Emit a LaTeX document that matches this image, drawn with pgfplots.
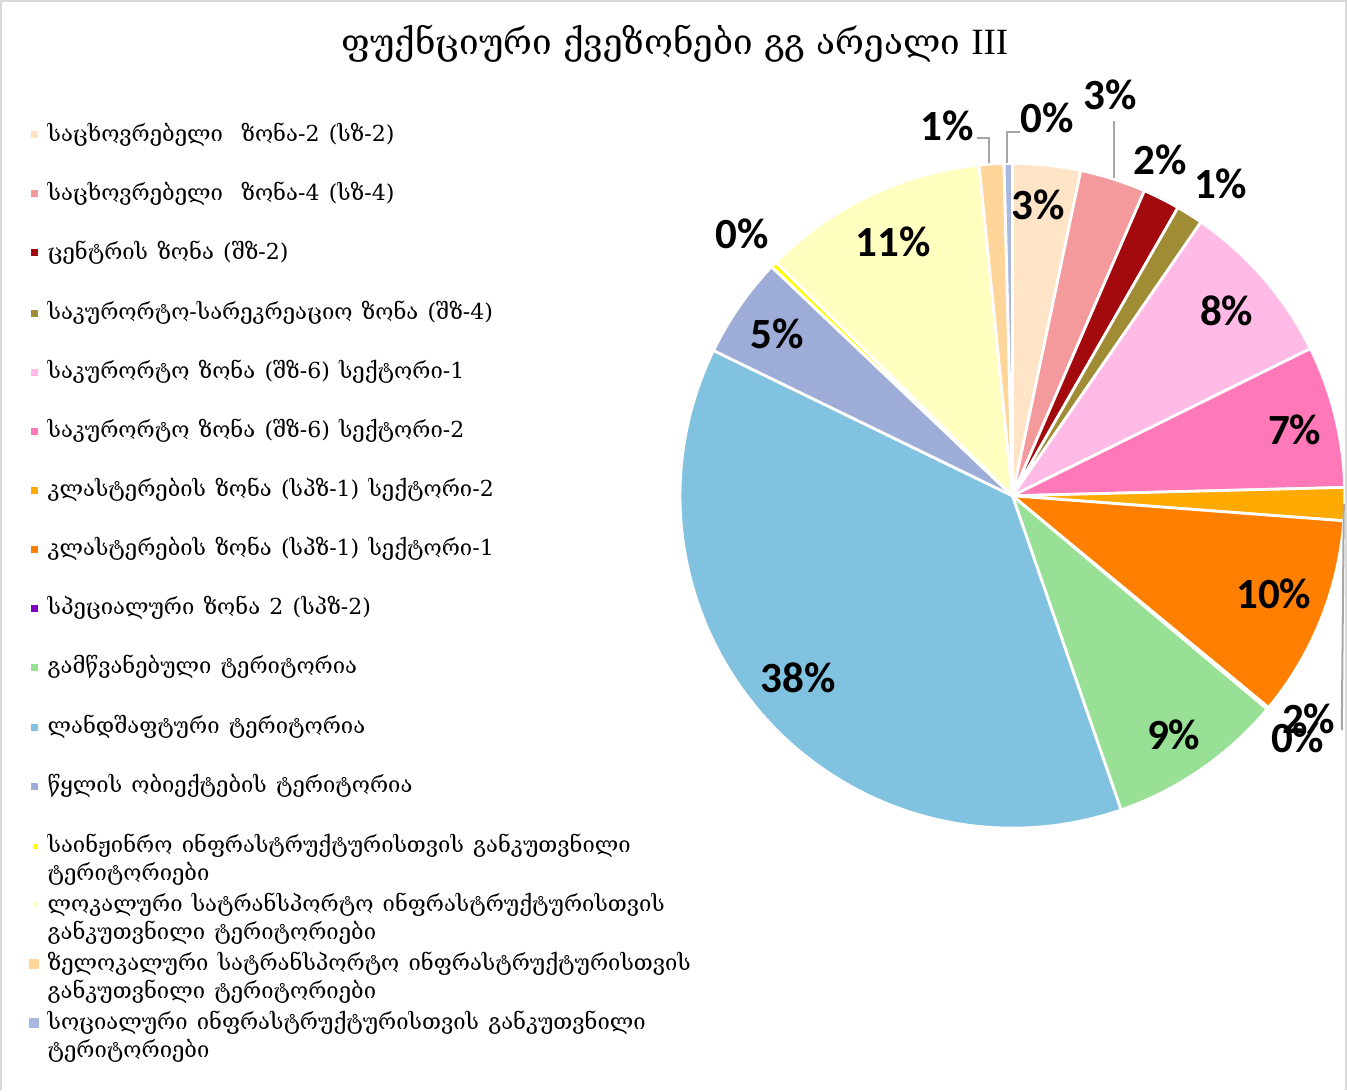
\documentclass[border=0pt]{standalone}
\usepackage{pgfplots}
\pgfplotsset{compat=1.18}
\usepackage{pgfplotstable}
\usepackage{fontspec}
\setmainfont{Liberation Serif}
\newfontfamily\geo{DejaVu Serif}
\newfontfamily\lbl{Carlito}
\definecolor{c1}{HTML}{FFE4C8}
\definecolor{c2}{HTML}{F4999C}
\definecolor{c3}{HTML}{A30A0E}
\definecolor{c4}{HTML}{A08C34}
\definecolor{c5}{HTML}{FFBBE6}
\definecolor{c6}{HTML}{FF78B8}
\definecolor{c7}{HTML}{FFAA00}
\definecolor{c8}{HTML}{FF8000}
\definecolor{c9}{HTML}{8000C0}
\definecolor{c10}{HTML}{98E096}
\definecolor{c11}{HTML}{80C2E0}
\definecolor{c12}{HTML}{9EACD8}
\definecolor{c13}{HTML}{FFFF00}
\definecolor{c14}{HTML}{FFFFC0}
\definecolor{c15}{HTML}{FFD59A}
\definecolor{c16}{HTML}{A8B8E0}
\definecolor{frame}{HTML}{D9D9D9}
\pgfplotstableread{
pct color
3.3 c1
3.2 c2
1.8 c3
1.3 c4
8.1 c5
6.9 c6
1.6 c7
9.8 c8
0.1 c9
8.6 c10
37.5 c11
4.9 c12
0.3 c13
11.0 c14
1.2 c15
0.4 c16
}\piedata
\newcommand{\legfont}{\geo\fontsize{11}{14}\selectfont\spaceskip=0.42em\relax}
\begin{document}
\begin{tikzpicture}
\begin{axis}[x=0.5pt, y=0.5pt, xmin=0, xmax=1347, ymin=0, ymax=1093,
  hide axis, clip=false, scale only axis]
\pgfmathsetmacro\cum{0}
\pgfplotsforeachungrouped \i in {0,...,15}{%
  \pgfplotstablegetelem{\i}{pct}\of\piedata \let\p\pgfplotsretval
  \pgfplotstablegetelem{\i}{color}\of\piedata \let\col\pgfplotsretval
  \pgfmathsetmacro\a{90-3.6*(\cum+\p)}%
  \pgfmathsetmacro\b{90-3.6*\cum}%
  \pgfmathsetmacro\cum{\cum+\p}%
  \pgfmathtruncatemacro\ns{max(2,3.6*\p/1.5)+2}%
  \edef\doit{\noexpand\addplot[fill=\col, draw=white, line width=1.4pt, line join=round, domain=\a:\b, samples=\ns] ({1012+332*cos(x)},{594+332*sin(x)}) -- (axis cs:1012,594) -- cycle;}%
  \doit
}
% frame
\draw[frame, line width=1.2pt] (axis cs:2,0) -- (axis cs:2,1088) -- (axis cs:1345,1088) -- (axis cs:1345,0);
% title
\node[font=\geo\fontsize{17.5}{20}\selectfont] at (axis cs:675,1046) {ფუქნციური ქვეზონები გგ არეალი {\rmfamily\fontsize{18.5}{20}\selectfont III}};
% leader lines
\draw[gray!70, line width=1pt] (axis cs:989,926) -- (axis cs:989,951) -- (axis cs:977,951);
\draw[gray!70, line width=1pt] (axis cs:1007,926) -- (axis cs:1007,957) -- (axis cs:1020,957);
\draw[gray!70, line width=1pt] (axis cs:1113,911) -- (axis cs:1113,968);
\draw[gray!70, line width=1pt] (axis cs:1343,586) -- (axis cs:1341,360);
% percent labels
\begin{scope}[every node/.style={font=\lbl\bfseries\fontsize{21.5}{24}\selectfont}]
\node at (axis cs:1038,885) {3\%};
\node at (axis cs:1110,994) {3\%};
\node at (axis cs:1160,930) {2\%};
\node at (axis cs:1220,906) {1\%};
\node at (axis cs:1226,779) {8\%};
\node at (axis cs:1294,660) {7\%};
\node at (axis cs:1308,371) {2\%};
\node at (axis cs:1273,496) {10\%};
\node at (axis cs:1297,352) {0\%};
\node at (axis cs:1173,355) {9\%};
\node at (axis cs:798,412) {38\%};
\node at (axis cs:777,756) {5\%};
\node at (axis cs:742,856) {0\%};
\node at (axis cs:893,848) {11\%};
\node at (axis cs:947,963) {1\%};
\node at (axis cs:1047,971) {0\%};
\end{scope}
% legend
\begin{scope}[every node/.style={font=\legfont, anchor=west, inner sep=0pt}]
\fill[c1] (axis cs:32,951) rectangle (axis cs:39,958);
\node at (axis cs:48,955) {საცხოვრებელი\ \ ზონა-2 (სზ-2)};
\fill[c2] (axis cs:32,892) rectangle (axis cs:39,899);
\node at (axis cs:48,896) {საცხოვრებელი\ \ ზონა-4 (სზ-4)};
\fill[c3] (axis cs:32,833) rectangle (axis cs:39,840);
\node at (axis cs:48,837) {ცენტრის ზონა (შზ-2)};
\fill[c4] (axis cs:32,773) rectangle (axis cs:39,780);
\node at (axis cs:48,777) {საკურორტო-სარეკრეაციო ზონა (შზ-4)};
\fill[c5] (axis cs:32,714) rectangle (axis cs:39,721);
\node at (axis cs:48,718) {საკურორტო ზონა (შზ-6) სექტორი-1};
\fill[c6] (axis cs:32,655) rectangle (axis cs:39,662);
\node at (axis cs:48,659) {საკურორტო ზონა (შზ-6) სექტორი-2};
\fill[c7] (axis cs:32,596) rectangle (axis cs:39,603);
\node at (axis cs:48,600) {კლასტერების ზონა (სპზ-1) სექტორი-2};
\fill[c8] (axis cs:32,537) rectangle (axis cs:39,544);
\node at (axis cs:48,541) {კლასტერების ზონა (სპზ-1) სექტორი-1};
\fill[c9] (axis cs:32,478) rectangle (axis cs:39,485);
\node at (axis cs:48,482) {სპეციალური ზონა 2 (სპზ-2)};
\fill[c10] (axis cs:32,419) rectangle (axis cs:39,426);
\node at (axis cs:48,423) {გამწვანებული ტერიტორია};
\fill[c11] (axis cs:32,359) rectangle (axis cs:39,366);
\node at (axis cs:48,363) {ლანდშაფტური ტერიტორია};
\fill[c12] (axis cs:32,300) rectangle (axis cs:39,307);
\node at (axis cs:48,304) {წყლის ობიექტების ტერიტორია};
\fill[c13] (axis cs:34,241) rectangle (axis cs:39,246);
\node at (axis cs:48,244) {საინჟინრო ინფრასტრუქტურისთვის განკუთვნილი};
\node at (axis cs:48,216) {ტერიტორიები};
\fill[c14] (axis cs:34,183) rectangle (axis cs:39,188);
\node at (axis cs:48,186) {ლოკალური სატრანსპორტო ინფრასტრუქტურისთვის};
\node at (axis cs:48,158) {განკუთვნილი ტერიტორიები};
\fill[c15] (axis cs:30,121) rectangle (axis cs:40,131);
\node at (axis cs:48,127) {ზელოკალური სატრანსპორტო ინფრასტრუქტურისთვის};
\node at (axis cs:48,99) {განკუთვნილი ტერიტორიები};
\fill[c16] (axis cs:30,62) rectangle (axis cs:40,72);
\node at (axis cs:48,68) {სოციალური ინფრასტრუქტურისთვის განკუთვნილი};
\node at (axis cs:48,40) {ტერიტორიები};
\end{scope}
\end{axis}
\end{tikzpicture}
\end{document}
